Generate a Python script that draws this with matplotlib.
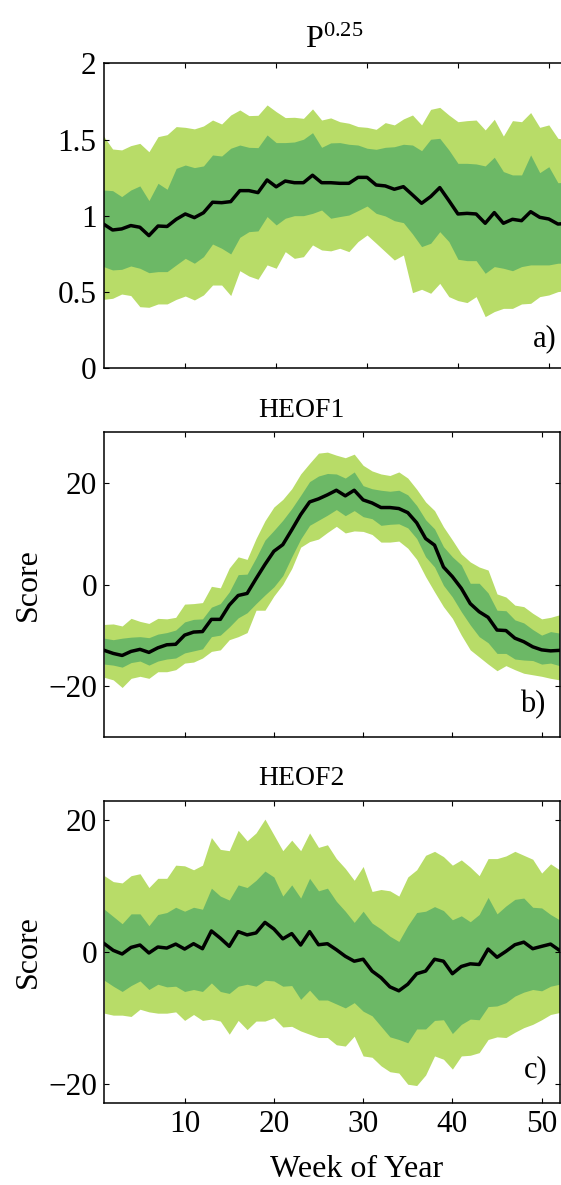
import numpy as np
import matplotlib
matplotlib.use("Agg")
import matplotlib.pyplot as plt

plt.rcParams['font.family'] = ['Liberation Serif', 'DejaVu Serif']
plt.rcParams['mathtext.fontset'] = 'custom'
plt.rcParams['mathtext.rm'] = 'Liberation Serif'
plt.rcParams['mathtext.it'] = 'Liberation Serif:italic'
plt.rcParams['axes.unicode_minus'] = True

weeks = np.arange(1, 53)

# Panel a: P^0.25
a_med = [0.946, 0.907, 0.914, 0.936, 0.925, 0.870, 0.933, 0.930, 0.977, 1.012,
         0.988, 1.020, 1.089, 1.086, 1.093, 1.165, 1.165, 1.152, 1.235, 1.190,
         1.228, 1.217, 1.217, 1.266, 1.217, 1.217, 1.213, 1.213, 1.252, 1.252,
         1.202, 1.196, 1.174, 1.191, 1.137, 1.082, 1.126, 1.185, 1.100, 1.012,
         1.016, 1.012, 0.951, 1.021, 0.951, 0.977, 0.968, 1.027, 0.990, 0.979,
         0.946, 0.950]
a_hi2 = [1.523, 1.438, 1.432, 1.460, 1.475, 1.420, 1.519, 1.532, 1.585, 1.580,
         1.570, 1.589, 1.628, 1.602, 1.661, 1.694, 1.657, 1.659, 1.727, 1.683,
         1.644, 1.646, 1.639, 1.701, 1.628, 1.642, 1.617, 1.607, 1.585, 1.580,
         1.567, 1.611, 1.596, 1.635, 1.661, 1.596, 1.698, 1.711, 1.661, 1.617,
         1.624, 1.628, 1.563, 1.633, 1.523, 1.624, 1.617, 1.677, 1.580, 1.596,
         1.508, 1.500]
a_hi1 = [1.169, 1.165, 1.126, 1.169, 1.196, 1.100, 1.213, 1.174, 1.311, 1.333,
         1.316, 1.327, 1.399, 1.392, 1.443, 1.464, 1.449, 1.447, 1.530, 1.480,
         1.480, 1.484, 1.502, 1.545, 1.449, 1.478, 1.480, 1.469, 1.464, 1.443,
         1.436, 1.449, 1.453, 1.469, 1.464, 1.427, 1.502, 1.508, 1.432, 1.344,
         1.344, 1.340, 1.327, 1.384, 1.290, 1.268, 1.268, 1.399, 1.283, 1.322,
         1.217, 1.220]
a_lo1 = [0.667, 0.645, 0.649, 0.671, 0.656, 0.627, 0.634, 0.634, 0.678, 0.721,
         0.689, 0.732, 0.815, 0.787, 0.750, 0.859, 0.896, 0.901, 0.995, 0.940,
         0.984, 1.001, 1.001, 1.016, 1.038, 0.984, 0.995, 1.005, 1.034, 1.064,
         1.016, 0.999, 0.968, 0.955, 0.881, 0.798, 0.820, 0.896, 0.831, 0.715,
         0.706, 0.706, 0.623, 0.667, 0.656, 0.640, 0.667, 0.678, 0.678, 0.678,
         0.689, 0.690]
a_lo2 = [0.452, 0.459, 0.487, 0.477, 0.404, 0.400, 0.422, 0.422, 0.452, 0.474,
         0.448, 0.481, 0.546, 0.546, 0.477, 0.640, 0.605, 0.584, 0.678, 0.656,
         0.765, 0.721, 0.732, 0.809, 0.776, 0.770, 0.787, 0.765, 0.831, 0.874,
         0.820, 0.765, 0.710, 0.743, 0.496, 0.518, 0.492, 0.557, 0.470, 0.444,
         0.431, 0.470, 0.339, 0.372, 0.393, 0.393, 0.422, 0.426, 0.470, 0.481,
         0.503, 0.510]

# Panel b: HEOF1
b_med = [-12.9, -13.5, -13.9, -13.1, -12.7, -13.3, -12.4, -11.8, -11.7, -9.9,
         -9.3, -9.2, -6.8, -6.8, -4.0, -2.1, -1.7, 1.2, 4.0, 6.6,
         7.9, 10.8, 13.8, 16.3, 16.9, 17.7, 18.6, 17.5, 18.6, 16.7,
         16.1, 15.2, 15.2, 15.0, 14.2, 12.2, 9.1, 7.8, 3.5, 1.6,
         -0.7, -3.7, -5.3, -6.4, -8.9, -9.0, -10.5, -11.2, -12.2, -12.8,
         -13.0, -12.9]
b_hi2 = [-7.8, -7.7, -8.1, -6.6, -7.2, -7.6, -6.6, -6.7, -6.4, -3.8,
         -3.7, -3.5, -0.3, -0.6, 3.3, 5.5, 5.0, 9.1, 12.6, 15.3,
         16.8, 18.9, 21.8, 23.9, 25.9, 26.1, 25.5, 25.0, 25.7, 23.5,
         22.4, 21.8, 21.5, 22.2, 21.0, 18.8, 16.3, 14.6, 11.4, 8.8,
         6.1, 4.5, 3.5, 2.9, -1.8, -2.4, -4.0, -4.3, -5.6, -6.7,
         -6.4, -5.9]
b_hi1 = [-10.5, -10.8, -10.5, -10.3, -10.2, -10.4, -9.7, -9.4, -8.9, -7.3,
         -6.8, -6.7, -4.4, -3.7, -1.4, 2.0, 2.1, 5.3, 8.8, 10.7,
         12.7, 15.0, 17.6, 20.3, 21.4, 21.9, 21.8, 21.0, 22.2, 19.5,
         18.9, 18.6, 18.4, 18.6, 17.7, 15.6, 12.8, 11.0, 7.5, 5.5,
         3.9, 0.3, 0.3, -1.6, -5.0, -5.1, -6.9, -7.5, -8.8, -9.9,
         -9.2, -9.5]
b_lo1 = [-15.6, -15.8, -16.2, -15.3, -15.0, -15.8, -15.0, -14.6, -14.4, -13.4,
         -13.0, -12.6, -10.2, -9.9, -8.3, -6.5, -5.5, -3.7, -2.0, -0.4,
         1.8, 5.5, 9.0, 11.7, 12.7, 13.7, 14.8, 13.6, 14.6, 13.4,
         13.0, 11.7, 11.9, 12.0, 11.2, 9.1, 5.5, 3.5, -0.1, -2.4,
         -5.3, -7.9, -10.2, -11.4, -13.5, -13.5, -14.6, -14.8, -14.9, -15.6,
         -15.4, -15.9]
b_lo2 = [-18.2, -18.7, -20.2, -18.4, -18.0, -18.4, -17.1, -17.1, -16.7, -15.4,
         -15.2, -14.4, -13.1, -12.8, -10.8, -10.2, -9.4, -5.0, -5.0, -2.2,
         0.1, 3.2, 7.4, 8.5, 9.0, 10.3, 11.5, 10.2, 10.6, 10.5,
         9.9, 8.4, 8.4, 8.6, 7.2, 5.0, 1.6, -1.4, -4.3, -6.6,
         -9.9, -12.8, -14.2, -15.6, -16.9, -15.9, -16.7, -17.4, -17.7, -18.0,
         -18.4, -18.7]

# Panel c: HEOF2
c_med = [1.26, 0.25, -0.3, 0.7, 1.06, -0.15, 0.76, 0.6, 1.2, 0.45,
         1.26, 0.5, 3.2, 2.1, 0.86, 3.1, 2.6, 2.9, 4.5, 3.5,
         2.0, 2.8, 1.06, 3.1, 1.1, 1.26, 0.35, -0.65, -1.4, -1.1,
         -2.9, -3.9, -5.3, -5.9, -4.9, -3.3, -2.9, -1.1, -1.4, -3.3,
         -2.2, -1.8, -1.9, 0.45, -0.8, 0.1, 1.1, 1.5, 0.5, 0.86,
         1.2, 0.25]
c_hi2 = [11.6, 10.7, 10.5, 11.6, 11.9, 9.8, 11.2, 11.2, 13.2, 13.1,
         12.5, 13.2, 17.4, 15.6, 15.4, 18.5, 16.9, 18.1, 20.2, 17.8,
         15.4, 17.0, 15.4, 18.1, 15.9, 16.3, 14.2, 12.7, 10.9, 13.0,
         9.2, 9.5, 9.3, 8.5, 11.4, 12.5, 14.7, 15.3, 14.5, 13.2,
         14.0, 12.9, 11.6, 14.2, 14.2, 14.6, 15.3, 14.7, 14.1, 12.0,
         13.4, 12.5]
c_hi1 = [6.5, 5.4, 4.3, 5.8, 5.8, 4.0, 5.7, 6.0, 6.8, 6.2,
         6.8, 6.5, 9.7, 8.5, 7.9, 10.2, 9.8, 10.9, 12.3, 11.4,
         8.5, 10.2, 8.2, 11.2, 9.3, 9.7, 7.7, 6.2, 4.5, 6.2,
         4.4, 3.5, 2.4, 1.6, 4.0, 6.0, 6.2, 6.9, 6.3, 4.9,
         5.5, 4.6, 5.7, 8.3, 5.8, 7.0, 8.0, 8.2, 6.8, 6.7,
         5.7, 4.9]
c_lo1 = [-4.3, -5.2, -6.0, -5.1, -4.4, -5.7, -4.9, -5.3, -5.2, -6.0,
         -5.7, -6.0, -4.7, -6.0, -6.3, -5.2, -4.9, -5.2, -4.3, -4.4,
         -5.2, -5.1, -7.2, -5.8, -7.3, -7.3, -7.9, -8.5, -7.7, -9.0,
         -9.7, -11.3, -12.9, -13.3, -13.8, -11.7, -11.7, -10.4, -10.3, -12.4,
         -11.0, -10.2, -10.3, -8.3, -8.2, -7.7, -6.7, -6.1, -5.7, -5.9,
         -5.2, -4.9]
c_lo2 = [-9.3, -9.6, -9.6, -9.8, -8.7, -9.1, -9.3, -9.3, -9.1, -10.4,
         -9.5, -10.4, -10.2, -10.5, -12.5, -10.4, -11.8, -10.5, -10.5, -10.0,
         -11.4, -11.3, -12.0, -12.5, -13.0, -13.0, -14.1, -14.3, -12.8, -15.8,
         -16.0, -17.3, -18.2, -18.4, -20.1, -20.3, -18.7, -15.8, -16.3, -17.8,
         -15.8, -15.7, -15.3, -13.3, -12.9, -13.0, -12.2, -11.5, -11.0, -10.3,
         -9.5, -9.2]

titles = [r'$\mathrm{P}^{0.25}$', 'HEOF1', 'HEOF2']
tags = ['a)', 'b)', 'c)']
ylims = [(0, 2), (-30, 30), (-23, 23)]
yticks = [[0, 0.5, 1, 1.5, 2], [-20, 0, 20], [-20, 0, 20]]
ytlabels = [['0', '0.5', '1', '1.5', '2'], ['\u221220', '0', '20'], ['\u221220', '0', '20']]
xticks = [10, 20, 30, 40, 50]
xlabel = 'Week of Year'
ylabel = 'Score'

LIGHT = '#b8dc68'
DARK = '#6cb866'
FS_TICK = 22.5
FS_LAB = 23
FS_TAG = 22
FS_TITLE = [23, 20, 20]
TITLE_X = [0.497, 0.434, 0.434]

W, H = 561, 1185
fig = plt.figure(figsize=(W / 100, H / 100), dpi=100)
rects = [
    [103.5 / W, 1 - 368.3 / H, (567 - 103.5) / W, (368.3 - 63.3) / H],
    [104.3 / W, 1 - 737.3 / H, (559.5 - 104.3) / W, (737.3 - 432.3) / H],
    [104.3 / W, 1 - 1103.3 / H, (559.5 - 104.3) / W, (1103.3 - 800.7) / H],
]
data = [
    (a_lo2, a_lo1, a_med, a_hi1, a_hi2),
    (b_lo2, b_lo1, b_med, b_hi1, b_hi2),
    (c_lo2, c_lo1, c_med, c_hi1, c_hi2),
]
tagpos = [(50.86, 0.142), (50.46, -25.0), (50.6, -19.1)]

for i in range(3):
    ax = fig.add_axes(rects[i])
    lo2, lo1, med, hi1, hi2 = data[i]
    ax.fill_between(weeks, lo2, hi2, color=LIGHT, linewidth=0)
    ax.fill_between(weeks, lo1, hi1, color=DARK, linewidth=0)
    ax.plot(weeks, med, color='black', linewidth=2.5)
    ax.set_xlim(1, 52)
    ax.set_ylim(*ylims[i])
    ax.set_yticks(yticks[i])
    ax.set_yticklabels(ytlabels[i])
    ax.set_xticks(xticks)
    if i < 2:
        ax.set_xticklabels([])
    else:
        ax.set_xticklabels([str(t) for t in xticks])
        ax.set_xlabel(xlabel, fontsize=FS_LAB)
        ax.xaxis.set_label_coords(0.554, -0.172)
        ax.xaxis.label.set_va('top')
    if i > 0:
        ax.set_ylabel(ylabel, fontsize=FS_LAB)
        ax.yaxis.set_label_coords(-0.135, 0.5)
    ax.tick_params(direction='in', top=True, right=True, length=3.5, width=0.8,
                   labelsize=FS_TICK, pad=5)
    for s in ax.spines.values():
        s.set_linewidth(1.1)
    ax.set_title(titles[i], fontsize=FS_TITLE[i], pad=11, x=TITLE_X[i])
    ax.text(tagpos[i][0], tagpos[i][1], tags[i], fontsize=FS_TAG, ha='right', va='baseline')

fig.savefig('out.png', dpi=100)
